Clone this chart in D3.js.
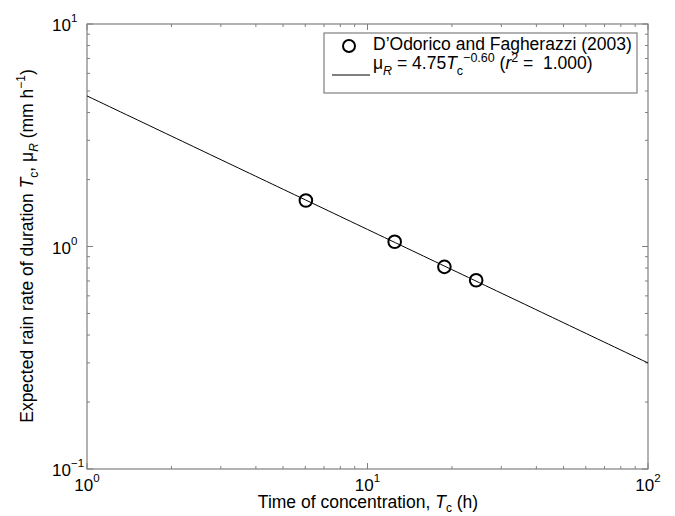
<!DOCTYPE html>
<html><head><meta charset="utf-8">
<script src="https://cdn.jsdelivr.net/npm/d3@7"></script>
<style>body{margin:0;background:#fff}svg{display:block;font-family:"Liberation Sans",Arial,sans-serif}</style>
</head><body><svg id="c" width="675" height="516"></svg>
<script>
// Data
const obsTc = [6.03, 12.5, 18.8, 24.4];
const obsMu = [1.61, 1.05, 0.81, 0.705];
const fitA = 4.75, fitB = -0.60;
const fitTc = [1, 100];
const xDomain = [1, 100];
const yDomain = [0.1, 10];
const xMajor = [1, 10, 100], xMajorExp = ["0", "1", "2"];
const yMajor = [0.1, 1, 10], yMajorExp = ["\u22121", "0", "1"];
const legendLabels = ["D\u2019Odorico and Fagherazzi (2003)"];

const svg = d3.select("#c");
const L = 87, R = 648, T = 24, B = 469;
const x = d3.scaleLog().domain(xDomain).range([L, R]);
const y = d3.scaleLog().domain(yDomain).range([B, T]);
const axisCol = "#7f7f7f";

function minors(dom){ const out=[]; for(let d=dom[0]; d<dom[1]; d*=10){ for(let k=2;k<=9;k++) out.push(d*k);} return out; }
const g = svg.append("g");
g.append("rect").attr("x",L).attr("y",T).attr("width",R-L).attr("height",B-T)
 .attr("fill","none").attr("stroke",axisCol).attr("stroke-width",1.2);
const xt = xMajor.map(v=>({v,len:6})).concat(minors(xDomain).map(v=>({v,len:3})));
xt.forEach(t=>{
  const px=x(t.v);
  g.append("line").attr("x1",px).attr("x2",px).attr("y1",B).attr("y2",B-t.len).attr("stroke",axisCol);
  g.append("line").attr("x1",px).attr("x2",px).attr("y1",T).attr("y2",T+t.len).attr("stroke",axisCol);
});
const yt = yMajor.map(v=>({v,len:6})).concat(minors(yDomain).map(v=>({v,len:3})));
yt.forEach(t=>{
  const py=y(t.v);
  g.append("line").attr("y1",py).attr("y2",py).attr("x1",L).attr("x2",L+t.len).attr("stroke",axisCol);
  g.append("line").attr("y1",py).attr("y2",py).attr("x1",R).attr("x2",R-t.len).attr("stroke",axisCol);
});
const fs = 17;
xMajor.forEach((v,i)=>{
  const t = svg.append("text").attr("x",x(v)).attr("y",491).attr("text-anchor","middle").attr("font-size",fs).attr("fill","#000");
  t.append("tspan").text("10");
  t.append("tspan").attr("font-size",11.5).attr("dy",-9).text(xMajorExp[i]);
});
yMajor.forEach((v,i)=>{
  const t = svg.append("text").attr("x",52).attr("y",y(v)+7).attr("text-anchor","start").attr("font-size",fs).attr("fill","#000");
  t.append("tspan").text("10");
  t.append("tspan").attr("font-size",11.5).attr("dy",-9).text(yMajorExp[i]);
});
const lf = 17.5;
const xl = svg.append("text").attr("x",368).attr("y",508).attr("text-anchor","middle").attr("font-size",lf);
xl.append("tspan").text("Time of concentration, ");
xl.append("tspan").attr("font-style","italic").text("T");
xl.append("tspan").attr("font-size",12).attr("dy",4).text("c");
xl.append("tspan").attr("dy",-4).text(" (h)");

const yl = svg.append("text").attr("transform","translate(33,246) rotate(-90)").attr("text-anchor","middle").attr("font-size",lf);
yl.append("tspan").text("Expected rain rate of duration ");
yl.append("tspan").attr("font-style","italic").text("T");
yl.append("tspan").attr("font-size",12).attr("dy",5).text("c");
yl.append("tspan").attr("dy",-5).text(", \u03bc");
yl.append("tspan").attr("font-size",12).attr("font-style","italic").attr("dy",5).text("R");
yl.append("tspan").attr("dy",-5).text(" (mm h");
yl.append("tspan").attr("font-size",12).attr("dy",-8).text("\u22121");
yl.append("tspan").attr("dy",8).text(")");

const fitPts = d3.range(0, 101).map(i => fitTc[0]*Math.pow(fitTc[1]/fitTc[0], i/100));
const line = d3.line().x(d=>x(d)).y(d=>y(fitA*Math.pow(d,fitB)));
svg.append("path").datum(fitPts).attr("d",line).attr("fill","none").attr("stroke","#000").attr("stroke-width",1);
svg.selectAll("circle.obs").data(obsTc).enter().append("circle").attr("class","obs")
  .attr("cx",d=>x(d)).attr("cy",(d,i)=>y(obsMu[i])).attr("r",6.3)
  .attr("fill","none").attr("stroke","#000").attr("stroke-width",2);

const lg = svg.append("g");
lg.append("rect").attr("x",324).attr("y",33).attr("width",313).attr("height",60).attr("fill","#fff").attr("stroke",axisCol).attr("stroke-width",1.2);
lg.append("circle").attr("cx",349).attr("cy",46).attr("r",6).attr("fill","none").attr("stroke","#000").attr("stroke-width",2);
lg.append("text").attr("x",373).attr("y",50).attr("font-size",lf).text(legendLabels[0]);
lg.append("line").attr("x1",332).attr("x2",370).attr("y1",75).attr("y2",75).attr("stroke","#000");
const t2 = lg.append("text").attr("x",373).attr("y",69).attr("font-size",lf);
t2.append("tspan").text("\u03bc");
t2.append("tspan").attr("font-size",12.5).attr("font-style","italic").attr("dy",6).text("R");
t2.append("tspan").attr("dy",-6).text(" = " + fitA.toFixed(2));
t2.append("tspan").attr("font-style","italic").text("T");
t2.append("tspan").attr("font-size",12.5).attr("dy",6).text("c");
t2.append("tspan").attr("font-size",12.5).attr("dy",-13).text("\u2212" + Math.abs(fitB).toFixed(2));
t2.append("tspan").attr("dy",7).text(" (");
t2.append("tspan").attr("font-style","italic").text("r");
t2.append("tspan").attr("font-size",12.5).attr("dy",-7).text("2");
t2.append("tspan").attr("dy",7).text(" =\u00a0 1.000)");
</script></body></html>
